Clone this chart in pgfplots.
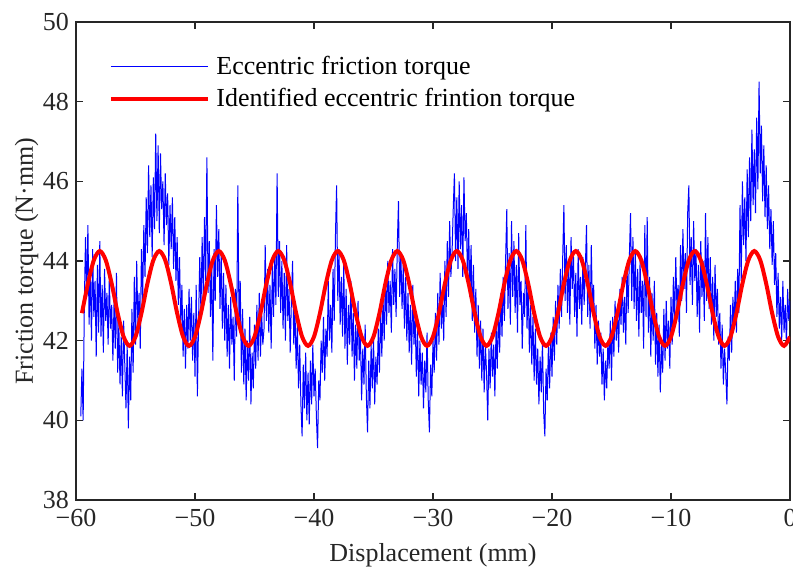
\documentclass[border=0pt]{standalone}
\usepackage{pgfplots}
\pgfplotsset{compat=1.18}
\usepackage{fontspec}
\setmainfont{Liberation Serif}
\definecolor{axgray}{RGB}{38,38,38}
\begin{document}
\begin{tikzpicture}
\begin{axis}[
  scale only axis,
  width=357pt, height=239pt,
  xmin=-60, xmax=0, ymin=38, ymax=50,
  xtick={-60,-50,-40,-30,-20,-10,0},
  xticklabels={−60,−50,−40,−30,−20,−10,0},
  ytick={38,40,42,44,46,48,50},
  yticklabels={38,40,42,44,46,48,50},
  tick align=inside,
  major tick length=3.5pt,
  axis line style={line width=0.7pt, axgray},
  every tick/.style={line width=0.7pt, axgray},
  font=\fontsize{13}{15}\selectfont,
  tick label style={font=\fontsize{13}{15}\selectfont, text=axgray},
  xticklabel style={yshift=-1pt},
  label style={font=\fontsize{13}{15}\selectfont, text=axgray},
  xlabel={Displacement (mm)},
  xlabel style={yshift=-1.5pt},
  ylabel={Friction torque (N·mm)},
  ylabel style={at={(axis description cs:-0.069,0.5)}, anchor=center},
  legend cell align=left,
  legend style={draw=none, fill=none, at={(axis description cs:0.037,0.947)}, anchor=north west, font=\fontsize{13}{15}\selectfont, row sep=1.8pt},
  legend image code/.code={\draw[#1] (0pt,0pt) -- (48.5pt,0pt); \path (49.8pt,0pt);},
]
\addplot[color={rgb,255:red,0;green,0;blue,255}, line width=0.5pt] coordinates {
(-59.6,40.1)(-59.5,41.3)(-59.4,40.0)(-59.3,42.9)(-59.2,44.6)(-59.1,43.1)(-59.0,44.9)
(-58.9,42.4)(-58.8,43.8)(-58.7,42.0)(-58.6,44.3)(-58.5,42.6)(-58.4,43.5)(-58.3,41.6)(-58.2,43.9)(-58.1,42.2)(-58.0,44.5)
(-57.9,42.1)(-57.8,43.4)(-57.7,41.7)(-57.6,43.8)(-57.5,42.5)(-57.4,43.2)(-57.3,41.9)(-57.2,43.6)(-57.1,42.3)(-57.0,42.9)
(-56.9,41.5)(-56.8,43.0)(-56.7,41.8)(-56.6,43.7)(-56.5,41.2)(-56.4,42.4)(-56.3,40.9)(-56.2,42.1)(-56.1,40.6)(-56.0,42.5)
(-55.9,41.4)(-55.8,40.3)(-55.7,41.9)(-55.6,39.8)(-55.5,41.6)(-55.4,40.5)(-55.3,42.8)(-55.2,41.2)(-55.1,43.6)(-55.0,41.9)
(-54.9,44.0)(-54.8,42.4)(-54.7,43.2)(-54.6,41.8)(-54.5,44.3)(-54.4,43.0)(-54.3,44.9)(-54.2,43.6)(-54.1,45.6)(-54.0,44.2)
(-53.9,46.4)(-53.8,44.6)(-53.7,45.9)(-53.6,44.1)(-53.5,46.1)(-53.4,44.8)(-53.3,47.2)(-53.2,45.0)(-53.1,46.9)(-53.0,44.7)
(-52.9,46.7)(-52.8,45.3)(-52.7,46.0)(-52.6,44.4)(-52.5,46.2)(-52.4,44.9)(-52.3,45.7)(-52.2,43.9)(-52.1,45.4)(-52.0,44.3)
(-51.9,45.6)(-51.8,43.8)(-51.7,45.1)(-51.6,43.5)(-51.5,44.6)(-51.4,42.9)(-51.3,44.1)(-51.2,42.4)(-51.1,43.4)(-51.0,41.6)
(-50.9,42.8)(-50.8,41.3)(-50.7,42.9)(-50.6,41.8)(-50.5,43.3)(-50.4,42.0)(-50.3,43.1)(-50.2,41.5)(-50.1,42.7)(-50.0,41.1)
(-49.9,43.4)(-49.8,40.6)(-49.7,42.5)(-49.6,44.1)(-49.5,42.7)(-49.4,44.6)(-49.3,43.0)(-49.2,45.1)(-49.1,43.5)(-49.0,46.6)
(-48.9,43.2)(-48.8,44.5)(-48.7,42.6)(-48.6,44.0)(-48.5,41.5)(-48.4,44.3)(-48.3,43.0)(-48.2,45.4)(-48.1,43.6)(-48.0,44.8)
(-47.9,42.8)(-47.8,44.2)(-47.7,42.3)(-47.6,43.7)(-47.5,42.0)(-47.4,43.4)(-47.3,41.6)(-47.2,42.9)(-47.1,41.3)(-47.0,43.1)
(-46.9,41.9)(-46.8,42.6)(-46.7,41.0)(-46.6,43.3)(-46.5,42.1)(-46.4,45.9)(-46.3,42.4)(-46.2,43.5)(-46.1,41.2)(-46.0,42.8)
(-45.9,40.9)(-45.8,42.3)(-45.7,40.5)(-45.6,42.0)(-45.5,41.0)(-45.4,42.6)(-45.3,40.4)(-45.2,41.7)(-45.1,40.8)(-45.0,42.4)
(-44.9,41.3)(-44.8,42.9)(-44.7,41.5)(-44.6,43.2)(-44.5,41.6)(-44.4,42.7)(-44.3,41.9)(-44.2,42.3)(-44.1,44.4)(-44.0,42.5)
(-43.9,43.8)(-43.8,42.2)(-43.7,43.4)(-43.6,41.8)(-43.5,43.9)(-43.4,42.6)(-43.3,44.2)(-43.2,42.9)(-43.1,46.2)(-43.0,43.1)
(-42.9,44.5)(-42.8,42.7)(-42.7,44.0)(-42.6,42.3)(-42.5,43.7)(-42.4,42.0)(-42.3,44.4)(-42.2,42.5)(-42.1,43.3)(-42.0,41.7)
(-41.9,43.0)(-41.8,44.0)(-41.7,41.9)(-41.6,42.8)(-41.5,41.3)(-41.4,42.4)(-41.3,40.8)(-41.2,41.9)(-41.1,40.4)(-41.0,39.6)
(-40.9,41.4)(-40.8,40.3)(-40.7,41.7)(-40.6,40.0)(-40.5,41.2)(-40.4,39.9)(-40.3,41.5)(-40.2,40.4)(-40.1,41.9)(-40.0,40.6)
(-39.9,41.3)(-39.8,40.1)(-39.7,39.3)(-39.6,41.0)(-39.5,40.5)(-39.4,42.0)(-39.3,41.2)(-39.2,42.6)(-39.1,41.0)(-39.0,42.3)
(-38.9,41.6)(-38.8,43.5)(-38.7,42.0)(-38.6,42.9)(-38.5,41.7)(-38.4,43.8)(-38.3,42.5)(-38.2,44.6)(-38.1,45.9)(-38.0,43.0)
(-37.9,44.3)(-37.8,42.4)(-37.7,43.6)(-37.6,42.1)(-37.5,44.0)(-37.4,41.8)(-37.3,43.3)(-37.2,41.4)(-37.1,42.9)(-37.0,41.9)
(-36.9,43.5)(-36.8,41.6)(-36.7,42.7)(-36.6,41.0)(-36.5,42.4)(-36.4,41.3)(-36.3,43.0)(-36.2,41.5)(-36.1,42.2)(-36.0,40.5)
(-35.9,41.8)(-35.8,40.9)(-35.7,42.4)(-35.6,40.6)(-35.5,39.7)(-35.4,41.5)(-35.3,40.3)(-35.2,41.9)(-35.1,40.8)(-35.0,42.1)
(-34.9,40.4)(-34.8,41.6)(-34.7,40.9)(-34.6,42.3)(-34.5,41.2)(-34.4,42.8)(-34.3,41.6)(-34.2,43.1)(-34.1,42.0)(-34.0,43.6)
(-33.9,42.4)(-33.8,44.0)(-33.7,42.7)(-33.6,43.5)(-33.5,42.2)(-33.4,44.3)(-33.3,42.9)(-33.2,43.8)(-33.1,42.6)(-33.0,44.4)
(-32.9,45.5)(-32.8,43.1)(-32.7,44.2)(-32.6,42.8)(-32.5,43.9)(-32.4,42.3)(-32.3,43.6)(-32.2,42.0)(-32.1,43.2)(-32.0,41.7)
(-31.9,42.9)(-31.8,41.4)(-31.7,43.4)(-31.6,41.9)(-31.5,42.6)(-31.4,41.1)(-31.3,42.3)(-31.2,40.6)(-31.1,42.0)(-31.0,40.9)
(-30.9,41.7)(-30.8,40.3)(-30.7,41.5)(-30.6,40.7)(-30.5,42.2)(-30.4,40.5)(-30.3,39.7)(-30.2,41.4)(-30.1,40.6)(-30.0,42.0)
(-29.9,41.2)(-29.8,42.7)(-29.7,41.5)(-29.6,43.2)(-29.5,41.9)(-29.4,43.7)(-29.3,42.3)(-29.2,43.1)(-29.1,42.0)(-29.0,44.0)
(-28.9,42.6)(-28.8,44.5)(-28.7,43.1)(-28.6,45.0)(-28.5,43.6)(-28.4,44.2)(-28.3,45.3)(-28.2,46.2)(-28.1,44.0)(-28.0,45.6)
(-27.9,43.8)(-27.8,46.0)(-27.7,44.3)(-27.6,45.4)(-27.5,43.6)(-27.4,46.1)(-27.3,44.5)(-27.2,45.2)(-27.1,43.5)(-27.0,44.8)
(-26.9,43.1)(-26.8,44.4)(-26.7,42.5)(-26.6,43.9)(-26.5,42.2)(-26.4,43.3)(-26.3,41.6)(-26.2,42.9)(-26.1,41.3)(-26.0,42.5)
(-25.9,41.0)(-25.8,42.3)(-25.7,40.7)(-25.6,41.9)(-25.5,41.2)(-25.4,40.0)(-25.3,41.8)(-25.2,40.8)(-25.1,42.2)(-25.0,41.1)
(-24.9,41.9)(-24.8,40.6)(-24.7,42.4)(-24.6,41.3)(-24.5,42.8)(-24.4,41.7)(-24.3,43.2)(-24.2,42.1)(-24.1,43.6)(-24.0,42.5)
(-23.9,44.0)(-23.8,45.3)(-23.7,42.8)(-23.6,44.2)(-23.5,42.4)(-23.4,45.0)(-23.3,43.1)(-23.2,44.5)(-23.1,42.7)(-23.0,43.9)
(-22.9,42.2)(-22.8,44.7)(-22.7,42.9)(-22.6,43.5)(-22.5,41.8)(-22.4,43.2)(-22.3,42.6)(-22.2,44.9)(-22.1,42.3)(-22.0,43.4)
(-21.9,41.7)(-21.8,42.9)(-21.7,41.4)(-21.6,42.6)(-21.5,41.0)(-21.4,42.3)(-21.3,40.9)(-21.2,41.8)(-21.1,40.4)(-21.0,41.6)
(-20.9,40.7)(-20.8,42.0)(-20.7,40.2)(-20.6,39.6)(-20.5,41.3)(-20.4,40.5)(-20.3,41.9)(-20.2,40.8)(-20.1,42.2)(-20.0,41.1)
(-19.9,42.6)(-19.8,41.5)(-19.7,43.0)(-19.6,41.9)(-19.5,43.4)(-19.4,42.3)(-19.3,43.8)(-19.2,42.6)(-19.1,44.1)(-19.0,45.4)
(-18.9,43.0)(-18.8,44.4)(-18.7,42.7)(-18.6,44.0)(-18.5,42.4)(-18.4,44.6)(-18.3,43.3)(-18.2,44.2)(-18.1,42.6)(-18.0,43.7)
(-17.9,42.1)(-17.8,44.3)(-17.7,42.8)(-17.6,43.6)(-17.5,42.4)(-17.4,44.1)(-17.3,42.9)(-17.2,43.8)(-17.1,44.9)(-17.0,42.6)
(-16.9,43.9)(-16.8,42.3)(-16.7,44.4)(-16.6,42.8)(-16.5,43.4)(-16.4,41.8)(-16.3,42.9)(-16.2,41.4)(-16.1,42.5)(-16.0,41.6)
(-15.9,42.2)(-15.8,40.9)(-15.7,41.8)(-15.6,40.5)(-15.5,41.5)(-15.4,40.8)(-15.3,42.0)(-15.2,41.3)(-15.1,42.5)(-15.0,41.0)
(-14.9,42.6)(-14.8,41.6)(-14.7,43.0)(-14.6,42.0)(-14.5,42.8)(-14.4,41.7)(-14.3,43.3)(-14.2,42.4)(-14.1,43.6)(-14.0,42.2)
(-13.9,43.1)(-13.8,41.9)(-13.7,43.9)(-13.6,42.7)(-13.5,44.1)(-13.4,45.2)(-13.3,43.0)(-13.2,44.6)(-13.1,42.8)(-13.0,44.3)
(-12.9,42.5)(-12.8,43.8)(-12.7,42.1)(-12.6,44.0)(-12.5,42.7)(-12.4,43.5)(-12.3,41.8)(-12.2,44.9)(-12.1,42.6)(-12.0,45.1)
(-11.9,42.2)(-11.8,43.6)(-11.7,41.6)(-11.6,43.2)(-11.5,42.0)(-11.4,43.5)(-11.3,41.4)(-11.2,42.7)(-11.1,41.1)(-11.0,42.4)
(-10.9,40.7)(-10.8,41.9)(-10.7,41.2)(-10.6,42.8)(-10.5,41.5)(-10.4,43.0)(-10.3,41.8)(-10.2,42.5)(-10.1,41.3)(-10.0,43.1)
(-9.9,41.9)(-9.8,43.6)(-9.7,42.4)(-9.6,44.1)(-9.5,42.8)(-9.4,43.4)(-9.3,42.1)(-9.2,44.4)(-9.1,43.0)(-9.0,44.8)
(-8.9,43.3)(-8.8,44.2)(-8.7,42.7)(-8.6,45.2)(-8.5,45.9)(-8.4,43.4)(-8.3,44.6)(-8.2,42.9)(-8.1,45.0)(-8.0,43.5)
(-7.9,44.3)(-7.8,42.6)(-7.7,43.9)(-7.6,42.2)(-7.5,44.5)(-7.4,43.1)(-7.3,44.0)(-7.2,42.5)(-7.1,45.2)(-7.0,43.0)
(-6.9,44.6)(-6.8,42.8)(-6.7,44.1)(-6.6,42.4)(-6.5,43.6)(-6.4,42.0)(-6.3,43.9)(-6.2,42.6)(-6.1,43.3)(-6.0,41.9)
(-5.9,42.7)(-5.8,41.3)(-5.7,42.4)(-5.6,40.9)(-5.5,41.8)(-5.4,41.2)(-5.3,40.4)(-5.2,42.1)(-5.1,41.5)(-5.0,42.9)
(-4.9,41.7)(-4.8,43.1)(-4.7,42.3)(-4.6,43.5)(-4.5,42.2)(-4.4,43.8)(-4.3,42.7)(-4.2,45.4)(-4.1,43.5)(-4.0,46.0)
(-3.9,44.4)(-3.8,45.6)(-3.7,44.0)(-3.6,46.3)(-3.5,44.6)(-3.4,46.6)(-3.3,45.0)(-3.2,47.3)(-3.1,45.4)(-3.0,46.8)
(-2.9,45.2)(-2.8,47.6)(-2.7,45.8)(-2.6,48.5)(-2.5,46.2)(-2.4,47.4)(-2.3,45.5)(-2.2,46.9)(-2.1,45.1)(-2.0,46.4)
(-1.9,44.8)(-1.8,45.9)(-1.7,44.3)(-1.6,45.3)(-1.5,43.9)(-1.4,45.0)(-1.3,43.4)(-1.2,44.2)(-1.1,42.6)(-1.0,43.7)
(-0.9,42.3)(-0.8,43.1)(-0.7,42.0)(-0.6,43.5)(-0.5,42.2)(-0.4,42.9)(-0.3,41.9)(-0.2,43.3)(-0.1,42.5)(0.0,43.0)
};
\addlegendentry{Eccentric friction torque}
\addplot[color={rgb,255:red,255;green,0;blue,0}, line width=2pt, smooth] coordinates {
(-59.5,42.69)(-59.0,43.43)(-58.5,44.02)
(-58.0,44.25)(-57.5,44.02)(-57.0,43.43)(-56.5,42.69)(-56.0,42.10)(-55.5,41.87)(-55.0,42.10)(-54.5,42.69)(-54.0,43.43)(-53.5,44.02)
(-53.0,44.25)(-52.5,44.02)(-52.0,43.43)(-51.5,42.69)(-51.0,42.10)(-50.5,41.87)(-50.0,42.10)(-49.5,42.69)(-49.0,43.43)(-48.5,44.02)
(-48.0,44.25)(-47.5,44.02)(-47.0,43.43)(-46.5,42.69)(-46.0,42.10)(-45.5,41.87)(-45.0,42.10)(-44.5,42.69)(-44.0,43.43)(-43.5,44.02)
(-43.0,44.25)(-42.5,44.02)(-42.0,43.43)(-41.5,42.69)(-41.0,42.10)(-40.5,41.87)(-40.0,42.10)(-39.5,42.69)(-39.0,43.43)(-38.5,44.02)
(-38.0,44.25)(-37.5,44.02)(-37.0,43.43)(-36.5,42.69)(-36.0,42.10)(-35.5,41.87)(-35.0,42.10)(-34.5,42.69)(-34.0,43.43)(-33.5,44.02)
(-33.0,44.25)(-32.5,44.02)(-32.0,43.43)(-31.5,42.69)(-31.0,42.10)(-30.5,41.87)(-30.0,42.10)(-29.5,42.69)(-29.0,43.43)(-28.5,44.02)
(-28.0,44.25)(-27.5,44.02)(-27.0,43.43)(-26.5,42.69)(-26.0,42.10)(-25.5,41.87)(-25.0,42.10)(-24.5,42.69)(-24.0,43.43)(-23.5,44.02)
(-23.0,44.25)(-22.5,44.02)(-22.0,43.43)(-21.5,42.69)(-21.0,42.10)(-20.5,41.87)(-20.0,42.10)(-19.5,42.69)(-19.0,43.43)(-18.5,44.02)
(-18.0,44.25)(-17.5,44.02)(-17.0,43.43)(-16.5,42.69)(-16.0,42.10)(-15.5,41.87)(-15.0,42.10)(-14.5,42.69)(-14.0,43.43)(-13.5,44.02)
(-13.0,44.25)(-12.5,44.02)(-12.0,43.43)(-11.5,42.69)(-11.0,42.10)(-10.5,41.87)(-10.0,42.10)(-9.5,42.69)(-9.0,43.43)(-8.5,44.02)
(-8.0,44.25)(-7.5,44.02)(-7.0,43.43)(-6.5,42.69)(-6.0,42.10)(-5.5,41.87)(-5.0,42.10)(-4.5,42.69)(-4.0,43.43)(-3.5,44.02)
(-3.0,44.25)(-2.5,44.02)(-2.0,43.43)(-1.5,42.69)(-1.0,42.10)(-0.5,41.87)(0.0,42.10)
};
\addlegendentry{Identified eccentric frintion torque}
\end{axis}
\pgfresetboundingbox
\path[use as bounding box] ([xshift=-38pt,yshift=-33pt]current axis.south west) rectangle ([xshift=1.5pt,yshift=11pt]current axis.north east);
\end{tikzpicture}
\end{document}
